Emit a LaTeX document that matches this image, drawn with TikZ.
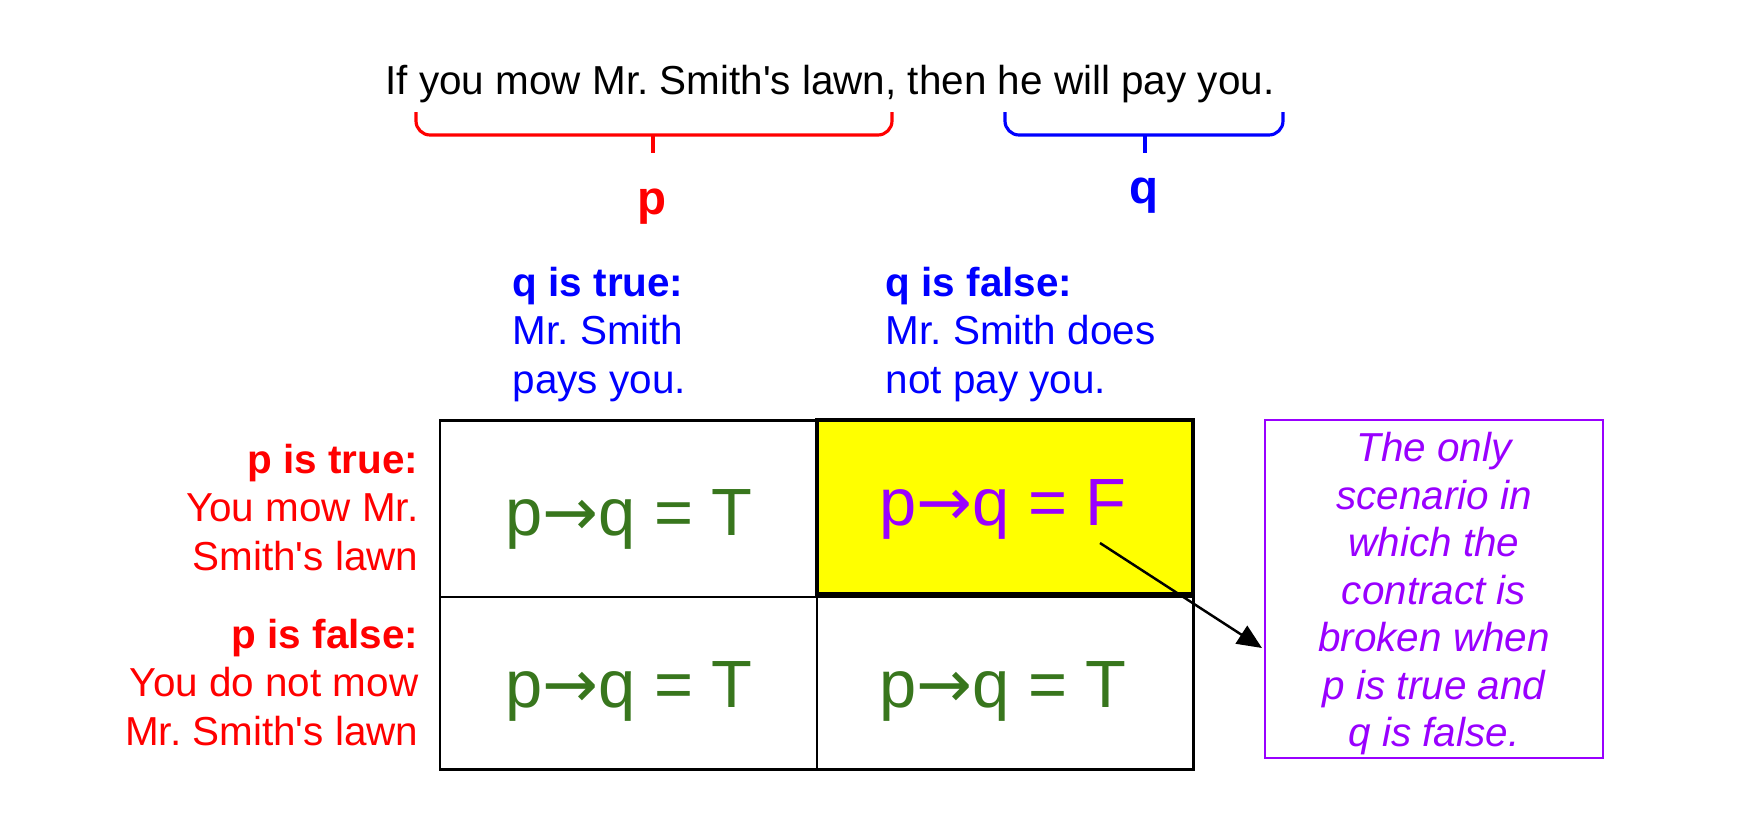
\documentclass[tikz,border=0pt]{standalone}
\usepackage{fontspec}
\setmainfont{Liberation Sans}[Ligatures=TeXOff]
\newfontfamily\arrowfont{DejaVu Sans}
\usetikzlibrary{arrows.meta}
\definecolor{ggreen}{HTML}{38761D}
\definecolor{gpurple}{HTML}{9900FF}
\definecolor{gyellow}{HTML}{FFFF00}
\newcommand{\impl}{p{\arrowfont →}q}
\frenchspacing

\begin{document}
\begin{tikzpicture}[x=0.01cm,y=-0.01cm,>={Triangle[length=7pt,width=6pt]},
  txt/.style={inner sep=0pt,font=\fontsize{11.5}{13.7}\selectfont},
  cellval/.style={inner sep=0pt,anchor=base,text=ggreen,font=\fontsize{19}{21}\selectfont},
  letter/.style={inner sep=0pt,anchor=base,font=\fontsize{13.5}{16}\selectfont\bfseries},
  brace/.style={line width=0.9pt,rounded corners=4pt}]
\useasboundingbox (0,0) rectangle (1738,836);
% the sentence and its two parts
\node[txt,anchor=base,font=\fontsize{11.5}{13}\selectfont] (sent) at (830,94)
  {If you mow Mr. Smith's lawn, then he will pay you.};
\draw[brace,red] (416,112) -- (416,135) -- (892,135) -- (892,112);
\draw[brace,red] (653,135) -- (653,153);
\draw[brace,blue] (1005,112) -- (1005,135) -- (1283,135) -- (1283,112);
\draw[brace,blue] (1145,135) -- (1145,153);
\node[letter,text=red] (plab) at (652,214) {p};
\node[letter,text=blue] (qlab) at (1144,203) {q};
% column and row headers
\node[txt,anchor=base west,align=left,text=blue] (qtrue) at (512,393)
  {\textbf{q is true:}\\Mr. Smith\\pays you.};
\node[txt,anchor=base west,align=left,text=blue] (qfalse) at (885,393)
  {\textbf{q is false:}\\Mr. Smith does\\not pay you.};
\node[txt,anchor=base east,align=right,text=red] (ptrue) at (419,570)
  {\textbf{p is true:}\\You mow Mr.\\Smith's lawn};
\node[txt,anchor=base east,align=right,text=red] (pfalse) at (419,745)
  {\textbf{p is false:}\\You do not mow\\Mr. Smith's lawn};
% the table
\fill[gyellow] (817,420) rectangle (1193,594);
\draw[line width=0.6pt] (440,597) -- (1193,597) (817,420) -- (817,769);
\draw[line width=0.85pt] (440,420) rectangle (1193,769);
\draw[line width=1.1pt] (817,420) rectangle (1193,594);
\node[cellval] (ctt) at (629,535) {\impl{} = T};
\node[cellval,text=gpurple] (ctf) at (1003,525) {\impl{} = F};
\node[cellval] (cft) at (629,707) {\impl{} = T};
\node[cellval] (cff) at (1003,707) {\impl{} = T};
% note
\node[txt,draw=gpurple,line width=0.6pt,text=gpurple,align=center,
  minimum width=3.37cm,minimum height=3.38cm,font=\fontsize{11.5}{13.5}\selectfont\itshape]
  (note) at (1434,589)
  {\rule{0pt}{11pt}The only\\scenario in\\which the\\contract is\\broken when\\p is true and\\q is false.};
\coordinate (tail) at (1100,543);
\coordinate (head) at (1262,648);
\draw[->,line width=0.7pt] (tail) -- (head);
\end{tikzpicture}
\end{document}
